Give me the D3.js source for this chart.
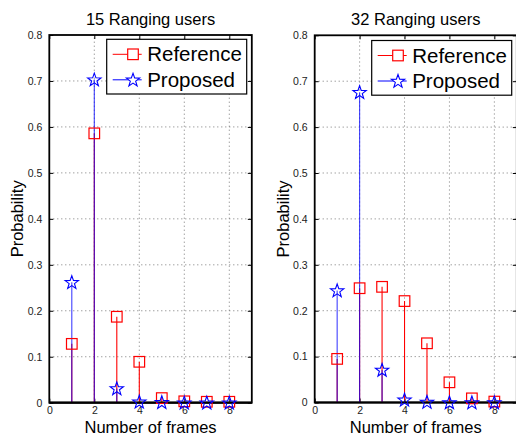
<!DOCTYPE html>
<html>
<head>
<meta charset="utf-8">
<script src="https://cdn.jsdelivr.net/npm/d3@7"></script>
<style>
  html, body { margin: 0; padding: 0; background: #fff; }
  svg { display: block; font-family: "Liberation Sans", Arial, Helvetica, sans-serif; }
</style>
</head>
<body>
<svg id="chart" width="516" height="434"></svg>
<script>
// Frame counts on the x axis
const frames = [1, 2, 3, 4, 5, 6, 7, 8];

// Probability of needing N frames, 15 ranging users
const reference15 = [0.128, 0.586, 0.187, 0.089, 0.010, 0.003, 0.002, 0.002];
const proposed15  = [0.262, 0.703, 0.031, 0.002, 0.001, 0.000, 0.000, 0.000];

// Probability of needing N frames, 32 ranging users
const reference32 = [0.095, 0.249, 0.252, 0.221, 0.129, 0.044, 0.009, 0.002];
const proposed32  = [0.244, 0.676, 0.071, 0.006, 0.001, 0.000, 0.000, 0.000];

const titles = ["15 Ranging users", "32 Ranging users"];
const seriesNames = ["Reference", "Proposed"];
const xTicks = [0, 2, 4, 6, 8];
const yTicks = [0, 0.1, 0.2, 0.3, 0.4, 0.5, 0.6, 0.7, 0.8];

const RED = "#ff0000", BLUE = "#0000ff";
const svg = d3.select("#chart");

// Five-pointed star path centred on the origin
function starPath(R) {
  const r = R * 0.4;
  const pts = [];
  for (let i = 0; i < 10; i++) {
    const a = -Math.PI / 2 + i * Math.PI / 5;
    const rad = i % 2 === 0 ? R : r;
    pts.push([rad * Math.cos(a), rad * Math.sin(a)]);
  }
  return "M" + pts.map(p => p[0].toFixed(2) + "," + p[1].toFixed(2)).join("L") + "Z";
}

const panels = [
  { title: titles[0], ref: reference15, prop: proposed15, x0: 49.3, x1: 251.8, y0: 402.7, y1: 35, legend: [106.7, 39.3] },
  { title: titles[1], ref: reference32, prop: proposed32, x0: 314.7, x1: 516.8, y0: 402.5, y1: 35.3, legend: [371.7, 40.5] }
];

panels.forEach(p => {
  const x = d3.scaleLinear().domain([0, 9]).range([p.x0, p.x1]);
  const y = d3.scaleLinear().domain([0, 0.8]).range([p.y0, p.y1]);
  const g = svg.append("g");

  // dotted grid
  g.append("g").selectAll("line").data(xTicks.filter(t => t > 0)).join("line")
    .attr("x1", d => x(d)).attr("x2", d => x(d))
    .attr("y1", p.y0).attr("y2", p.y1)
    .attr("stroke", "#6a6a6a").attr("stroke-width", 0.9).attr("stroke-dasharray", "1,3");
  g.append("g").selectAll("line").data(yTicks.filter(t => t > 0 && t < 0.8)).join("line")
    .attr("x1", p.x0).attr("x2", p.x1)
    .attr("y1", d => y(d)).attr("y2", d => y(d))
    .attr("stroke", "#6a6a6a").attr("stroke-width", 0.9).attr("stroke-dasharray", "1,3");

  // axes with inward ticks
  const ax = g.append("g").attr("transform", `translate(0,${p.y0})`)
    .call(d3.axisBottom(x).tickValues(xTicks).tickFormat(d3.format("d")).tickSizeInner(-4).tickSizeOuter(0).tickPadding(4));
  const ay = g.append("g").attr("transform", `translate(${p.x0},0)`)
    .call(d3.axisLeft(y).tickValues(yTicks).tickFormat(d => d === 0 ? "0" : d3.format(".1f")(d)).tickSizeInner(-4).tickSizeOuter(0).tickPadding(7));
  const axT = g.append("g").attr("transform", `translate(0,${p.y1})`)
    .call(d3.axisTop(x).tickValues(xTicks).tickFormat("").tickSizeInner(-4).tickSizeOuter(0));
  const ayR = g.append("g").attr("transform", `translate(${p.x1},0)`)
    .call(d3.axisRight(y).tickValues(yTicks).tickFormat("").tickSizeInner(-4).tickSizeOuter(0));
  [ax, ay, axT, ayR].forEach(a => {
    a.select(".domain").remove();
    a.selectAll(".tick line").attr("stroke", "#000").attr("stroke-width", 1);
    a.selectAll(".tick text").attr("font-size", 10.5).attr("fill", "#222")
      .attr("font-family", "Liberation Sans, Arial, sans-serif");
  });

  // axes box
  g.append("rect").attr("x", p.x0).attr("y", p.y1)
    .attr("width", p.x1 - p.x0).attr("height", p.y0 - p.y1)
    .attr("fill", "none").attr("stroke", "#000").attr("stroke-width", 1.8);

  // stems: reference first, proposed on top
  const refData = frames.map((f, i) => ({ f, v: p.ref[i] }));
  const propData = frames.map((f, i) => ({ f, v: p.prop[i] }));

  g.append("g").selectAll("line").data(refData).join("line")
    .attr("x1", d => x(d.f)).attr("x2", d => x(d.f))
    .attr("y1", y(0)).attr("y2", d => y(d.v))
    .attr("stroke", RED).attr("stroke-width", 1.1);
  g.append("g").selectAll("line").data(propData).join("line")
    .attr("x1", d => x(d.f)).attr("x2", d => x(d.f))
    .attr("y1", y(0)).attr("y2", d => y(d.v))
    .attr("stroke", BLUE).attr("stroke-width", 1.1).attr("stroke-opacity", 0.75);

  // stem baseline
  g.append("line").attr("x1", p.x0).attr("x2", p.x1)
    .attr("y1", y(0)).attr("y2", y(0))
    .attr("stroke", "#000").attr("stroke-width", 2.2);

  // markers
  g.append("g").selectAll("rect").data(refData).join("rect")
    .attr("x", d => x(d.f) - 5.3).attr("y", d => y(d.v) - 5.3)
    .attr("width", 10.6).attr("height", 10.6)
    .attr("fill", "none").attr("stroke", RED).attr("stroke-width", 1.2);
  g.append("g").selectAll("path").data(propData).join("path")
    .attr("transform", d => `translate(${x(d.f)},${y(d.v) + 0.5})`)
    .attr("d", starPath(7))
    .attr("fill", "none").attr("stroke", BLUE).attr("stroke-width", 1.1);

  // title and axis labels
  g.append("text").attr("x", (p.x0 + p.x1) / 2).attr("y", 25)
    .attr("text-anchor", "middle").attr("font-size", 16.5).attr("fill", "#000").text(p.title);
  g.append("text").attr("x", (p.x0 + p.x1) / 2).attr("y", 432.5)
    .attr("text-anchor", "middle").attr("font-size", 16.5).attr("fill", "#000").text("Number of frames");
  g.append("text").attr("transform", `translate(${p.x0 - 26},${(p.y0 + p.y1) / 2}) rotate(-90)`)
    .attr("text-anchor", "middle").attr("font-size", 16.5).attr("fill", "#000").text("Probability");

  // legend
  const [lx, ly] = p.legend;
  const lg = g.append("g").attr("transform", `translate(${lx},${ly})`);
  lg.append("rect").attr("width", 140).attr("height", 54.7)
    .attr("fill", "#fff").attr("stroke", "#000").attr("stroke-width", 1.2);
  const rows = [
    { name: seriesNames[0], color: RED, square: true, yy: 15 },
    { name: seriesNames[1], color: BLUE, square: false, yy: 40.5 }
  ];
  rows.forEach(r => {
    lg.append("line").attr("x1", 6).attr("x2", 35).attr("y1", r.yy).attr("y2", r.yy)
      .attr("stroke", r.color).attr("stroke-width", 1);
    if (r.square) {
      lg.append("rect").attr("x", 26.3 - 5.3).attr("y", r.yy - 5.3).attr("width", 10.6).attr("height", 10.6)
        .attr("fill", "#fff").attr("stroke", r.color).attr("stroke-width", 1.2);
    } else {
      lg.append("path").attr("transform", `translate(26.3,${r.yy + 0.5})`).attr("d", starPath(7))
        .attr("fill", "#fff").attr("stroke", r.color).attr("stroke-width", 1.1);
    }
    lg.append("text").attr("x", 40.5).attr("y", r.yy + 7.2).attr("font-size", 20.5)
      .attr("fill", "#000").text(r.name);
  });
});
</script>
</body>
</html>
